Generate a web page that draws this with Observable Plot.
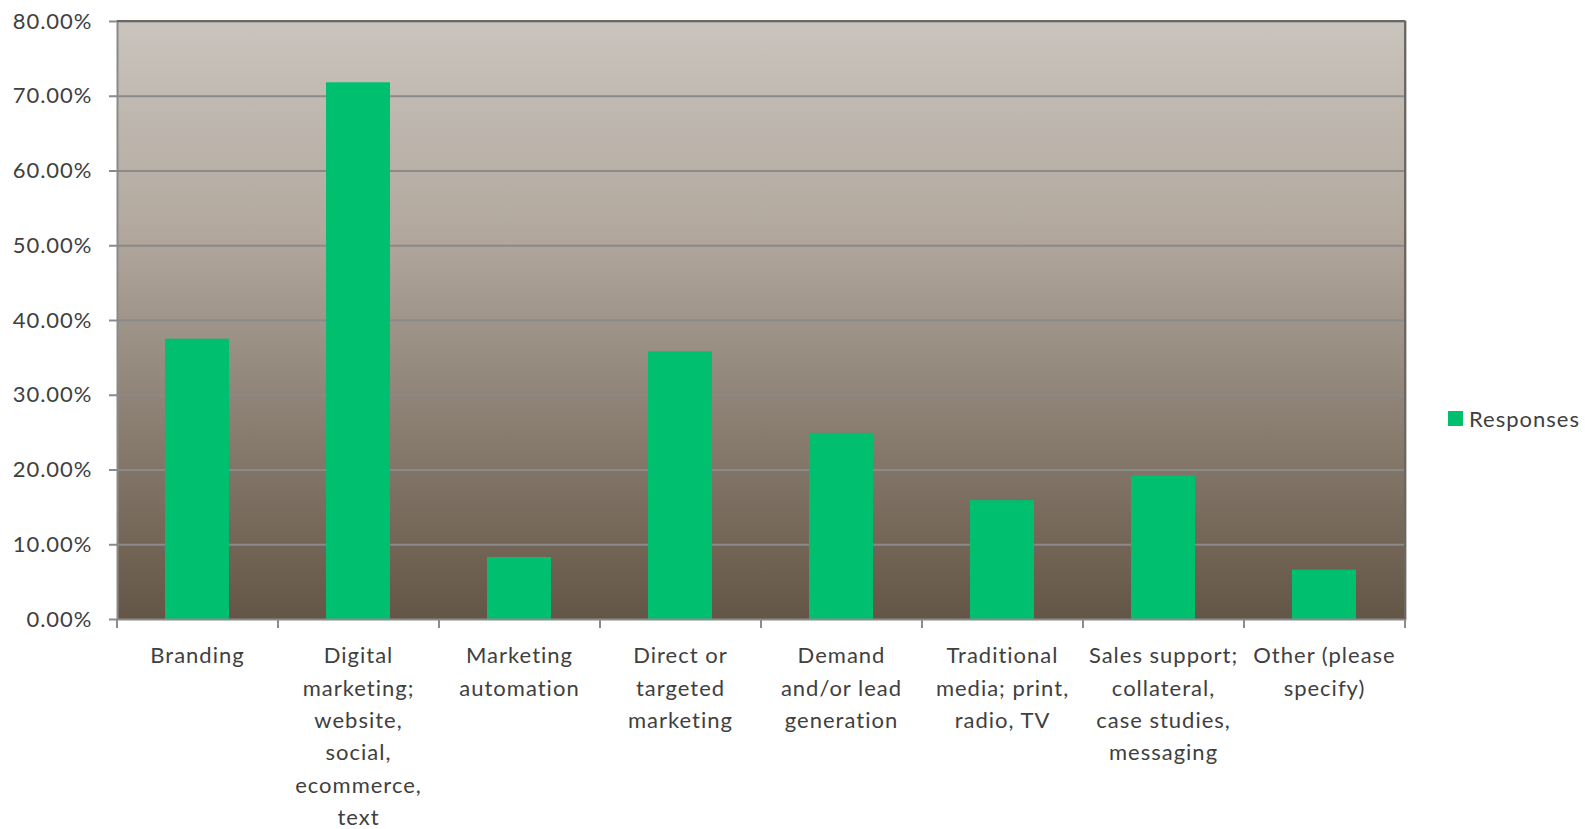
<!DOCTYPE html>
<html>
<head>
<meta charset="utf-8">
<script src="https://cdn.jsdelivr.net/npm/d3@7"></script>
<script src="https://cdn.jsdelivr.net/npm/@observablehq/plot@0.6"></script>
<style>
  html, body { margin: 0; padding: 0; background: #ffffff; }
  #wrap { position: relative; width: 1585px; height: 829px; font-family: Lato, "Noto Sans", sans-serif; }
  #legend { position: absolute; left: 1448px; top: 405px; display: flex; align-items: center; font-size: 22px; letter-spacing: 1px; color: #404040; }
  #legend .sw { width: 15px; height: 15px; background: #00bf6f; margin-right: 6px; }
</style>
</head>
<body>
<div id="wrap"><div id="chart"></div><div id="legend"><div class="sw"></div><span>Responses</span></div></div>
<script>
const categories = [
  "Branding",
  "Digital marketing; website, social, ecommerce, text",
  "Marketing automation",
  "Direct or targeted marketing",
  "Demand and/or lead generation",
  "Traditional media; print, radio, TV",
  "Sales support; collateral, case studies, messaging",
  "Other (please specify)"
];
const tickLabels = [
  "Branding",
  "Digital\nmarketing;\nwebsite,\nsocial,\necommerce,\ntext",
  "Marketing\nautomation",
  "Direct or\ntargeted\nmarketing",
  "Demand\nand/or lead\ngeneration",
  "Traditional\nmedia; print,\nradio, TV",
  "Sales support;\ncollateral,\ncase studies,\nmessaging",
  "Other (please\nspecify)"
];
const responses = [0.375, 0.718, 0.083, 0.358, 0.249, 0.159, 0.192, 0.066];
const yTicks = [0, 0.1, 0.2, 0.3, 0.4, 0.5, 0.6, 0.7, 0.8];

const data = categories.map((c, i) => ({category: c, value: responses[i]}));
const labelOf = new Map(categories.map((c, i) => [c, tickLabels[i]]));

// gradient definition mark
const gradientDefs = () => {
  const ns = "http://www.w3.org/2000/svg";
  const defs = document.createElementNS(ns, "defs");
  defs.innerHTML = `<linearGradient id="bgGrad" x1="0" y1="0" x2="0" y2="1">
      <stop offset="0%" stop-color="#c9c4bd"/>
      <stop offset="35%" stop-color="#b2a89e"/>
      <stop offset="70%" stop-color="#877b6e"/>
      <stop offset="100%" stop-color="#645646"/>
    </linearGradient>`;
  return defs;
};

// category boundary ticks below the x axis, and darker top/right borders
const boundaryTicks = (index, scales, values, dims) => {
  const ns = "http://www.w3.org/2000/svg";
  const g = document.createElementNS(ns, "g");
  const x0 = dims.marginLeft, x1 = dims.width - dims.marginRight;
  const yt = dims.marginTop, yb = dims.height - dims.marginBottom;
  const n = categories.length;
  const line = (ax, ay, bx, by, stroke) => {
    const l = document.createElementNS(ns, "line");
    l.setAttribute("x1", ax); l.setAttribute("x2", bx);
    l.setAttribute("y1", ay); l.setAttribute("y2", by);
    l.setAttribute("stroke", stroke);
    l.setAttribute("stroke-width", "2");
    g.appendChild(l);
  };
  line(x0, yt, x1, yt, "#6e675e");
  line(x1, yt, x1, yb, "#6e675e");
  for (let i = 0; i <= n; i++) {
    const x = x0 + (x1 - x0) * i / n;
    line(x, yb, x, yb + 9, "#8c8c8c");
  }
  return g;
};

const chart = Plot.plot({
  width: 1585,
  height: 829,
  marginLeft: 117,
  marginRight: 180,
  marginTop: 21,
  marginBottom: 210,
  style: {fontFamily: "Lato, 'Noto Sans', sans-serif", color: "#404040", background: "transparent", letterSpacing: "1px"},
  x: {domain: categories, paddingInner: 0.6, paddingOuter: 0.3},
  y: {domain: [0, 0.8]},
  marks: [
    gradientDefs,
    Plot.frame({fill: "url(#bgGrad)", stroke: "none"}),
    Plot.gridY(yTicks.slice(1, -1), {stroke: "#8a8a8a", strokeOpacity: 1, strokeWidth: 2}),
    Plot.barY(data, {x: "category", y: "value", fill: "#00bf6f"}),
    Plot.frame({stroke: "#8a8a8a", strokeWidth: 2, fill: "none"}),
    Plot.axisY({
      ticks: yTicks,
      tickFormat: d3.format(".2%"),
      tickSize: 8,
      tickPadding: 17,
      fontSize: 22,
      stroke: "#8a8a8a",
      strokeWidth: 2,
      fill: "#404040",
      label: null
    }),
    Plot.axisX({
      tickSize: 0,
      tickPadding: 21,
      fontSize: 22,
      lineHeight: 1.47,
      tickFormat: d => labelOf.get(d),
      fill: "#404040",
      label: null
    }),
    boundaryTicks
  ]
});
document.getElementById("chart").appendChild(chart);
</script>
</body>
</html>
